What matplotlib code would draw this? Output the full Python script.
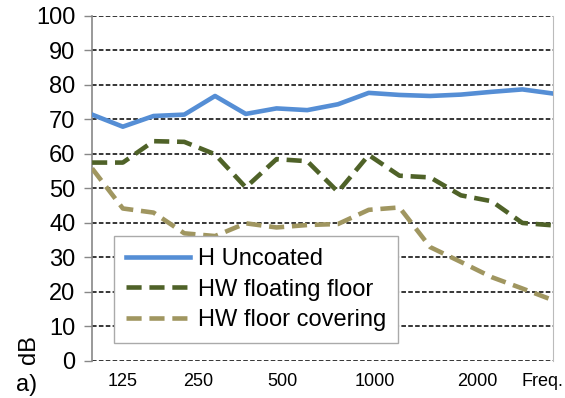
import matplotlib.pyplot as plt

plt.rcParams['font.family'] = ['Liberation Sans', 'DejaVu Sans']

# 1/3 octave bands, 100 Hz .. 3150 Hz
bands = ['100', '125', '160', '200', '250', '315', '400', '500', '630', '800',
         '1000', '1250', '1600', '2000', '2500', '3150']
h_uncoated = [71.4, 67.9, 71.0, 71.4, 76.8, 71.6, 73.2, 72.7, 74.4, 77.7,
              77.1, 76.8, 77.2, 78.0, 78.7, 77.5]
hw_floating = [57.5, 57.5, 63.7, 63.5, 59.9, 50.3, 58.5, 57.9, 49.0, 59.7,
               53.7, 53.2, 48.0, 46.3, 40.0, 39.3]
hw_covering = [55.8, 44.2, 43.0, 37.0, 36.2, 39.9, 38.7, 39.4, 39.7, 43.8,
               44.5, 33.0, 28.7, 24.3, 21.0, 17.6]

# axis labels sit where the original put them (not on the band points)
xlabel_text = ['125', '250', '500', '1000', '2000', 'Freq.']
xlabel_pos = [0.98, 3.45, 6.18, 9.21, 12.53, 14.64]

x = list(range(len(bands)))

fig = plt.figure(figsize=(5.65, 3.98), dpi=100)
ax = fig.add_axes([0.163, 0.093, 0.816, 0.867])

for yv in range(0, 101, 10):
    ax.axhline(yv, color='black', lw=1.1, ls=(0, (3.0, 1.5)), zorder=1)

ax.plot(x, h_uncoated, color='#558ED5', lw=3.3, label='H Uncoated', zorder=3)
ax.plot(x, hw_floating, color='#4F6228', lw=3.3, ls=(0, (3.3, 1.7)),
        label='HW floating floor', zorder=3)
ax.plot(x, hw_covering, color='#A09660', lw=3.3, ls=(0, (3.3, 1.7)),
        label='HW floor covering', zorder=3)

ax.set_xlim(0, 15)
ax.set_ylim(0, 100)
ax.set_yticks(range(0, 101, 10))
ax.tick_params(axis='y', labelsize=17, length=6, color='#888888', width=1, pad=6)
ax.set_xticks(xlabel_pos, xlabel_text)
ax.tick_params(axis='x', labelsize=13, length=0, pad=9)

ax.spines['top'].set_visible(False)
ax.spines['bottom'].set_visible(False)
ax.spines['left'].set_color('#888888')
ax.spines['left'].set_linewidth(1.2)
ax.spines['right'].set_color('#BBBBBB')

leg = ax.legend(loc='lower left', bbox_to_anchor=(0.048, 0.052), borderaxespad=0,
                fontsize=17, fancybox=False, framealpha=1, edgecolor='#AAAAAA',
                handlelength=2.7, handletextpad=0.35, labelspacing=0.36,
                borderpad=0.5)
leg.get_frame().set_linewidth(1.0)
leg.set_zorder(5)

fig.text(29 / 565, 1 - 350 / 398, 'dB', rotation=90, fontsize=17,
         ha='center', va='center')
fig.text(27 / 565, 1 - 385 / 398, 'a)', fontsize=17, ha='center', va='center')

fig.savefig('out.png', dpi=100)
